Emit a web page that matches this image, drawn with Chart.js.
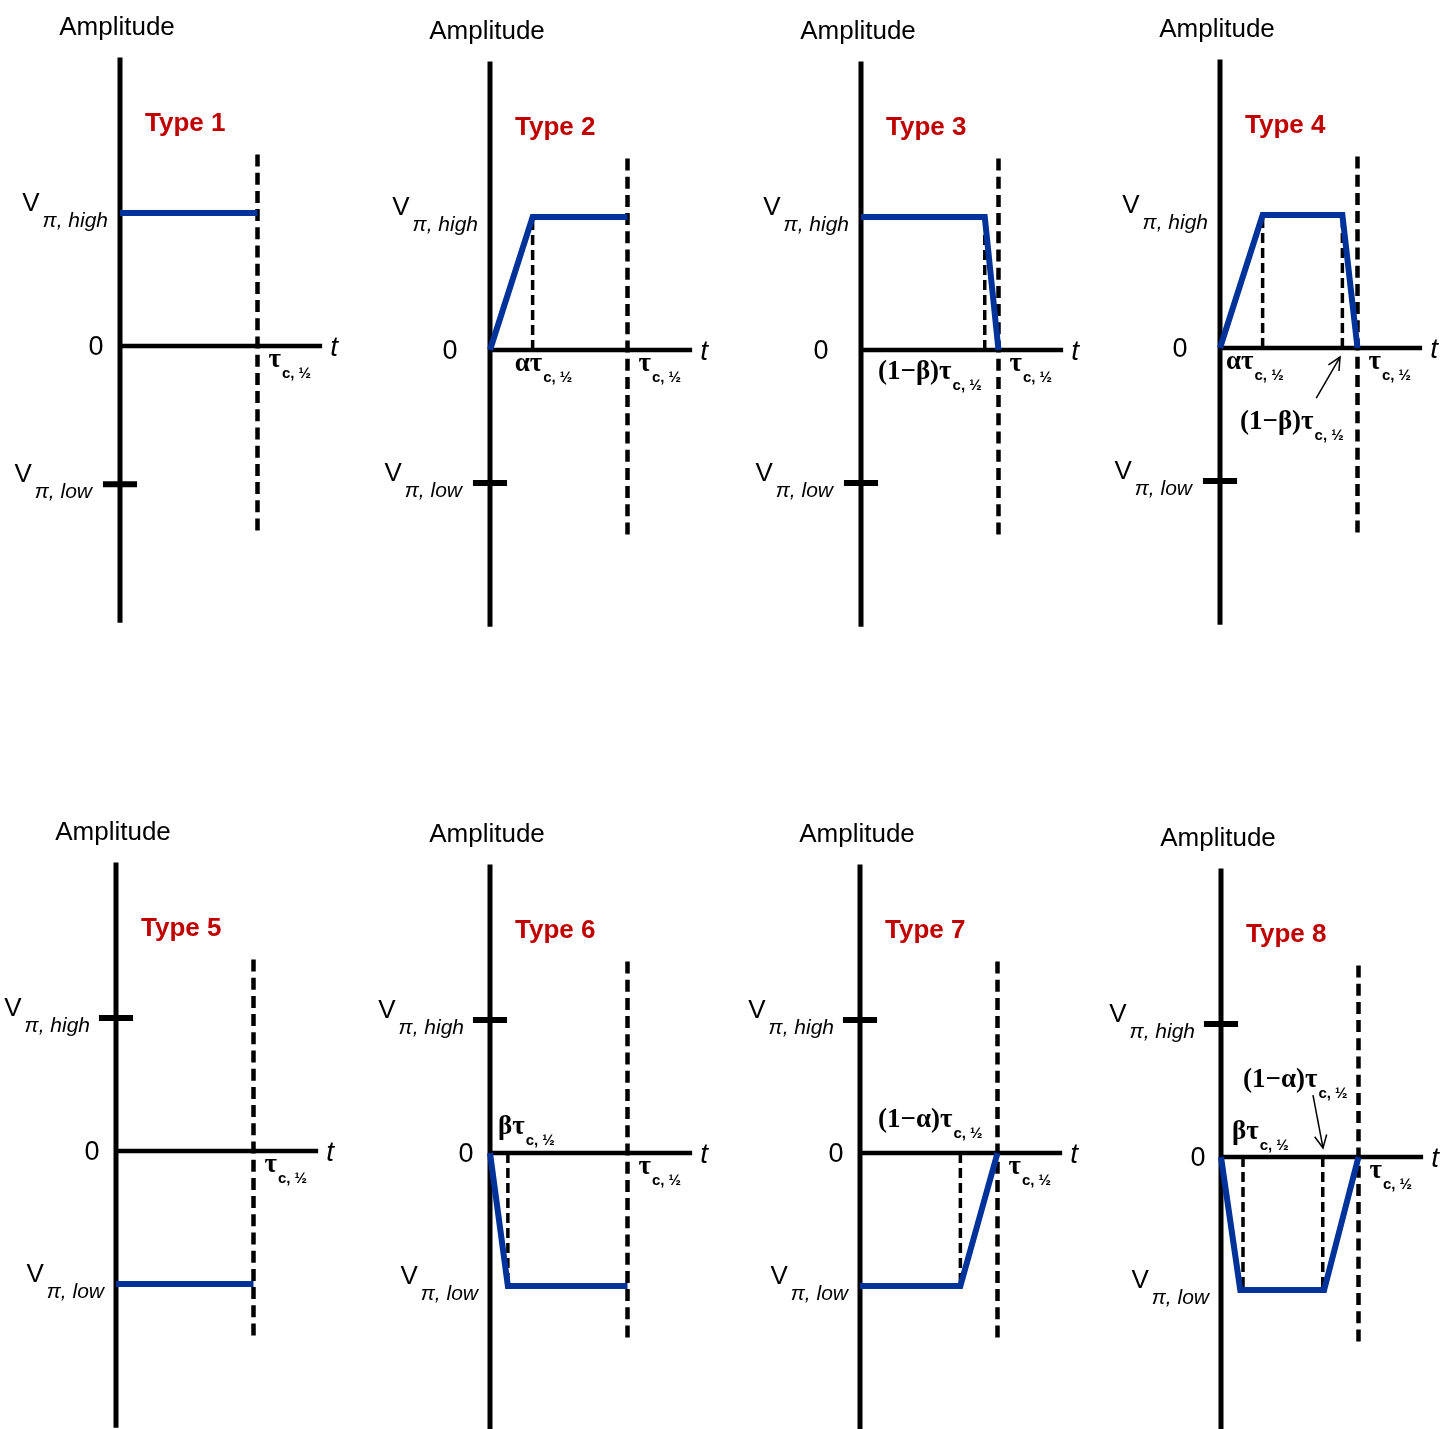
<!DOCTYPE html>
<html>
<head>
<meta charset="utf-8">
<script src="https://cdn.jsdelivr.net/npm/chart.js@4.4.1/dist/chart.umd.min.js"></script>
<style>
html, body { margin: 0; padding: 0; background: #fff; overflow: hidden; width: 1441px; height: 1429px; }
#page { position: relative; width: 1441px; height: 1429px; }
canvas { position: absolute; }
</style>
</head>
<body>
<div id="page"></div>
<script>
// time in units of tau_c,1/2, amplitude in units of V_pi
const typeNames = ['Type 1', 'Type 2', 'Type 3', 'Type 4', 'Type 5', 'Type 6', 'Type 7', 'Type 8'];
const pulseTimes = [
    [0, 1],
    [0, 0.31, 1],
    [0, 0.9, 1],
    [0, 0.31, 0.89, 1],
    [0, 1],
    [0, 0.13, 1],
    [0, 0.73, 1],
    [0, 0.14, 0.75, 1]
];
const pulseLevels = [
    [1, 1],
    [0, 1, 1],
    [1, 1, 0],
    [0, 1, 1, 0],
    [-1, -1],
    [0, -1, -1],
    [-1, -1, 0],
    [0, -1, -1, 0]
];
const guideTimes = [[], [0.31], [0.9], [0.31, 0.89], [], [0.13], [0.73], [0.16, 0.74]];
const guideLevels = [[], [1], [1], [1, 1], [], [-1], [-1], [-1, -1]];
const tickLevels = [-1.04, -1, -1, -1, 1, 1, 1, 1];   // marked level on the amplitude axis
const highLevel = 1, lowLevel = -1;
const tauEnd = 1;
const axisTop = 2.17, axisBottom = -2.08, axisRight = 1.47;
const dashTop = 1.44, dashBottom = -1.4;
const timeLabelText = [
    [],
    ['ατ'],
    ['(1−β)τ'],
    ['ατ', '(1−β)τ'],
    [],
    ['βτ'],
    ['(1−α)τ'],
    ['βτ', '(1−α)τ']
];
const arrows = [null, null, null, [[0.70, -0.376], [0.873, -0.068]], null, null, null, [[0.669, 0.466], [0.742, 0.068]]];

// layout (pixels)
const origins = [[120, 346], [490, 350], [861, 350], [1220, 348], [116, 1151], [490, 1153], [860, 1153], [1221, 1157]];
const PX_T = 137.5, PX_V = 133;
const X_MIN = -0.95, X_MAX = 1.7, Y_MIN = -2.2, Y_MAX = 2.6;
const TEXT_DY = 2;
const timeLabelPos = [
    [],
    [[0.31, -18, 12]],
    [[0, 17, 20]],
    [[0, 6, 12], [0, 20, 72]],
    [],
    [[0, 8, -28]],
    [[0, 18, -35]],
    [[0, 11, -27], [0, 22, -79]]
];
const zeroGap = [24, 40, 40, 40, 24, 24, 24, 23];

const SANS = '"Liberation Sans", Arial, sans-serif';
const SERIF = '"Liberation Serif", "Times New Roman", serif';
const BLUE = '#003399';
const RED = '#c00000';

function line(points, color, width, dash) {
    return {
        data: points,
        showLine: true,
        borderColor: color,
        borderWidth: width,
        borderDash: dash || [],
        borderCapStyle: 'butt',
        pointRadius: 0,
        fill: false,
        tension: 0
    };
}

function drawParts(ctx, x, y, parts, align) {
    let w = 0;
    parts.forEach(p => { ctx.font = p[1]; w += ctx.measureText(p[0]).width + (p[3] || 0); });
    let cx = align === 'right' ? x - w : x;
    ctx.textAlign = 'left';
    ctx.textBaseline = 'middle';
    parts.forEach(p => {
        ctx.font = p[1];
        ctx.fillText(p[0], cx, y + TEXT_DY + p[2]);
        cx += ctx.measureText(p[0]).width + (p[3] || 0);
    });
}

const labelPlugin = {
    id: 'pulseLabels',
    afterDatasetsDraw(chart, args, opts) {
        const i = opts.index;
        const ctx = chart.ctx;
        const xs = chart.scales.x, ys = chart.scales.y;
        const x0 = xs.getPixelForValue(0), y0 = ys.getPixelForValue(0);
        const topRow = i < 4;
        ctx.save();
        ctx.fillStyle = '#000';

        // Amplitude title
        ctx.font = '26px ' + SANS;
        ctx.textAlign = 'center';
        ctx.textBaseline = 'middle';
        ctx.fillText('Amplitude', x0 - 3, y0 - 320 + TEXT_DY);

        // Type name
        ctx.fillStyle = RED;
        ctx.font = 'bold 26px ' + SANS;
        ctx.textAlign = 'left';
        ctx.fillText(typeNames[i], x0 + 25, y0 - 224 + TEXT_DY);
        ctx.fillStyle = '#000';

        // zero and t
        ctx.font = '27px ' + SANS;
        ctx.textAlign = 'center';
        ctx.fillText('0', x0 - zeroGap[i], y0 + TEXT_DY);
        ctx.font = 'italic 28px ' + SANS;
        ctx.textAlign = 'left';
        ctx.fillText('t', xs.getPixelForValue(axisRight) + 8, y0 + TEXT_DY);

        // V labels
        const yHigh = ys.getPixelForValue(highLevel), yLow = ys.getPixelForValue(lowLevel);
        const highGap = topRow ? 12 : 26, lowGap = topRow ? 28 : 12;
        const yl = topRow ? ys.getPixelForValue(tickLevels[i]) : yLow;
        const yh = topRow ? yHigh : ys.getPixelForValue(tickLevels[i]);
        drawParts(ctx, x0 - highGap, yh, [['V', '26px ' + SANS, -11, 3], ['π, high', 'italic 21px ' + SANS, 6]], 'right');
        drawParts(ctx, x0 - lowGap, yl, [['V', '26px ' + SANS, -11, 3], ['π, low', 'italic 21px ' + SANS, 6]], 'right');

        // tau label at the end of the pulse
        const sub = ['c, ½', 'bold 15px ' + SANS, 14];
        const greek = 'bold 27px ' + SERIF;
        drawParts(ctx, xs.getPixelForValue(tauEnd) + 11, y0 + 12, [['τ', greek, 0, 1], sub]);

        // alpha / beta time labels
        timeLabelText[i].forEach((txt, k) => {
            const p = timeLabelPos[i][k];
            drawParts(ctx, xs.getPixelForValue(p[0]) + p[1], y0 + p[2], [[txt, greek, 0, 1], sub]);
        });

        // arrow heads
        const a = arrows[i];
        if (a) {
            const sx = xs.getPixelForValue(a[0][0]), sy = ys.getPixelForValue(a[0][1]);
            const ex = xs.getPixelForValue(a[1][0]), ey = ys.getPixelForValue(a[1][1]);
            const ang = Math.atan2(ey - sy, ex - sx);
            const L = 14, spread = 0.45;
            ctx.strokeStyle = '#000';
            ctx.lineWidth = 1.5;
            ctx.beginPath();
            ctx.moveTo(ex - L * Math.cos(ang - spread), ey - L * Math.sin(ang - spread));
            ctx.lineTo(ex, ey);
            ctx.lineTo(ex - L * Math.cos(ang + spread), ey - L * Math.sin(ang + spread));
            ctx.stroke();
        }
        ctx.restore();
    }
};

const page = document.getElementById('page');

origins.forEach((o, i) => {
    const left = Math.round(o[0] + X_MIN * PX_T);
    const top = Math.round(o[1] - Y_MAX * PX_V);
    const width = Math.round((X_MAX - X_MIN) * PX_T);
    const height = Math.round((Y_MAX - Y_MIN) * PX_V);
    const canvas = document.createElement('canvas');
    canvas.width = width;
    canvas.height = height;
    canvas.style.left = left + 'px';
    canvas.style.top = top + 'px';
    canvas.style.width = width + 'px';
    canvas.style.height = height + 'px';
    page.appendChild(canvas);

    const xMin = (left - o[0]) / PX_T, xMax = xMin + width / PX_T;
    const yMax = (o[1] - top) / PX_V, yMin = yMax - height / PX_V;

    const datasets = [];
    datasets.push(line(pulseTimes[i].map((t, k) => ({ x: t, y: pulseLevels[i][k] })), BLUE, 6));
    if (arrows[i]) {
        datasets.push(line(arrows[i].map(p => ({ x: p[0], y: p[1] })), '#000', 1.5));
    }
    guideTimes[i].forEach((t, k) => {
        datasets.push(line([{ x: t, y: 0 }, { x: t, y: guideLevels[i][k] }], '#000', 3.5, [10, 5]));
    });
    datasets.push(line([{ x: tauEnd, y: dashTop }, { x: tauEnd, y: dashBottom }], '#000', 4.5, [12, 6.2]));
    datasets.push(line([{ x: -0.124, y: tickLevels[i] }, { x: 0.124, y: tickLevels[i] }], '#000', 6));
    datasets.push(line([{ x: 0, y: 0 }, { x: axisRight, y: 0 }], '#000', 4.5));
    datasets.push(line([{ x: 0, y: axisBottom }, { x: 0, y: axisTop }], '#000', 5));

    new Chart(canvas.getContext('2d'), {
        type: 'scatter',
        data: { datasets: datasets },
        options: {
            responsive: false,
            animation: false,
            events: [],
            layout: { padding: 0 },
            scales: {
                x: { type: 'linear', min: xMin, max: xMax, display: false },
                y: { type: 'linear', min: yMin, max: yMax, display: false }
            },
            plugins: {
                legend: { display: false },
                tooltip: { enabled: false },
                pulseLabels: { index: i }
            }
        },
        plugins: [labelPlugin]
    });
});
</script>
</body>
</html>
